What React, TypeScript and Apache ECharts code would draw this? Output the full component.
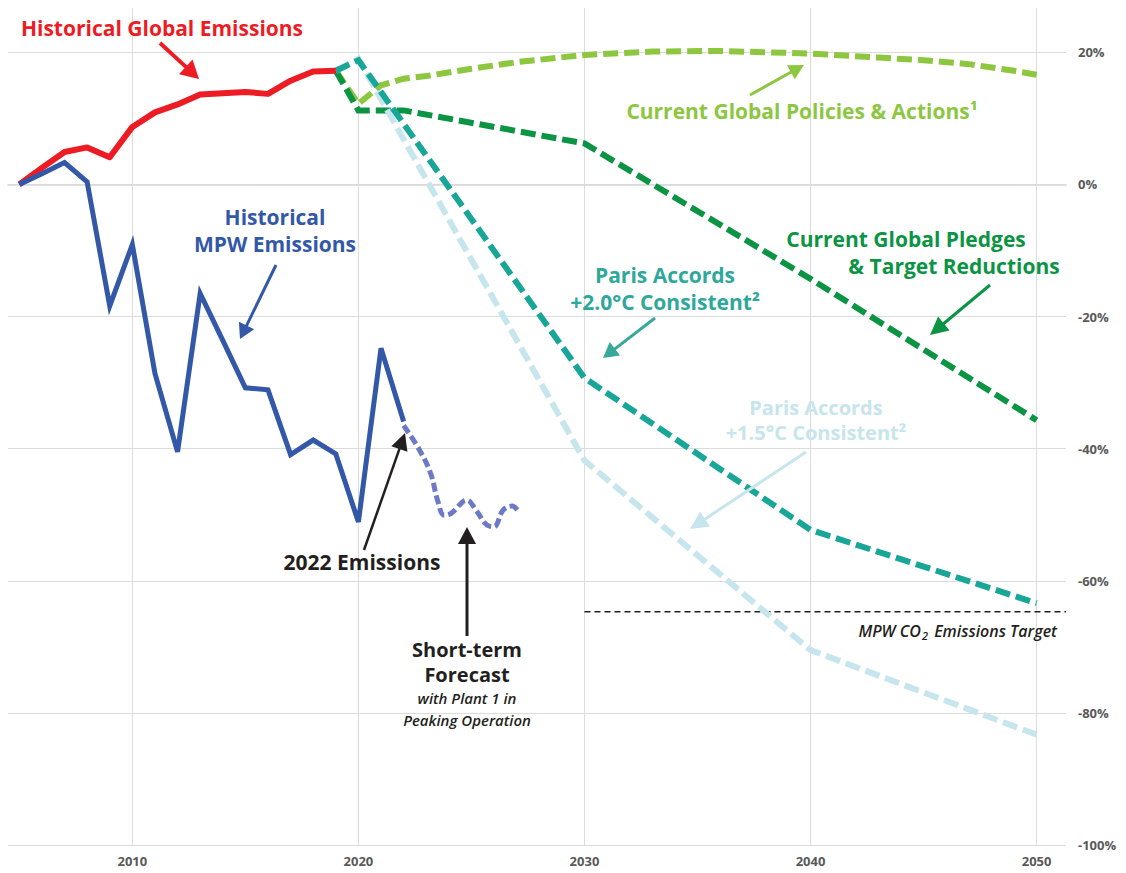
import React, { useEffect, useRef } from "react";
import * as echarts from "echarts";

// ---------- data ----------
const globalYears = [2005, 2006, 2007, 2008, 2009, 2010, 2011, 2012, 2013, 2014, 2015, 2016, 2017, 2018, 2019];
const globalValues = [0, 2.5, 4.9, 5.6, 4.1, 8.7, 10.9, 12.1, 13.6, 13.8, 14.0, 13.7, 15.7, 17.1, 17.2];

const mpwYears = [2005, 2006, 2007, 2008, 2009, 2010, 2011, 2012, 2013, 2014, 2015, 2016, 2017, 2018, 2019, 2020, 2021, 2022];
const mpwValues = [0, 1.6, 3.3, 0.4, -18.4, -9.1, -28.6, -40.5, -16.5, -23.6, -30.8, -31.1, -40.9, -38.7, -40.8, -51.1, -24.8, -35.9];

const forecastYears = [2022, 2022.7, 2023.2, 2023.5, 2023.8, 2024.1, 2024.8, 2025.2, 2025.7, 2026.0, 2026.4, 2026.8, 2027.1];
const forecastValues = [-36.5, -40.2, -43.8, -47.8, -50.1, -49.8, -47.8, -49.3, -51.6, -51.8, -49.3, -48.7, -49.6];

const policiesYears = [2019, 2020, 2021, 2022, 2023, 2025, 2027, 2030, 2033, 2036, 2040, 2043, 2045, 2047, 2049, 2050];
const policiesValues = [17.2, 12.2, 15.0, 16.0, 16.4, 17.5, 18.5, 19.6, 20.1, 20.2, 19.8, 19.2, 18.8, 18.2, 17.2, 16.6];

const pledgesYears = [2019, 2020, 2022, 2030, 2040, 2050];
const pledgesValues = [17.2, 11.2, 11.2, 6.2, -14.3, -35.7];

const paris20Years = [2019, 2020, 2030, 2040, 2050];
const paris20Values = [17.2, 18.8, -29.3, -52.3, -63.4];

const paris15Years = [2019, 2020, 2030, 2040, 2050];
const paris15Values = [17.2, 19.0, -41.8, -70.5, -83.3];

const targetStartYear = 2030;
const targetValue = -64.7;

const xTicks = [2010, 2020, 2030, 2040, 2050];
const yTicks = [-100, -80, -60, -40, -20, 0, 20];
const xMin = 2004.5;
const xMax = 2051.3;
const yMin = -100;
const yMax = 26.7;

const pairs = (xs: number[], ys: number[]) => xs.map((x, i) => [x, ys[i]]);

// ---------- colours ----------
const RED = "#ed1c24";
const BLUE = "#3358a8";
const PURPLE = "#6c79c4";
const LGREEN = "#8dc63f";
const DGREEN = "#0b9444";
const TEAL = "#17a697";
const LBLUE = "#c6e5ec";
const BLACK = "#231f20";
const FONT = "'Open Sans'";

function arrow(x1: number, y1: number, x2: number, y2: number, color: string, lw: number, hl: number, hw: number) {
  const dx = x2 - x1, dy = y2 - y1;
  const L = Math.hypot(dx, dy);
  const ux = dx / L, uy = dy / L;
  const bx = x2 - ux * hl, by = y2 - uy * hl;
  const px = -uy, py = ux;
  return [
    { type: "line", z: 100, shape: { x1, y1, x2: bx + ux * 2, y2: by + uy * 2 }, style: { stroke: color, lineWidth: lw } },
    {
      type: "polygon",
      z: 100,
      shape: { points: [[x2, y2], [bx + (px * hw) / 2, by + (py * hw) / 2], [bx - (px * hw) / 2, by - (py * hw) / 2]] },
      style: { fill: color },
    },
  ];
}

function txt(text: string, x: number, y: number, font: string, fill: string, lineHeight = 24, align = "center") {
  return { type: "text", z: 100, x, y, style: { text, font, fill, lineHeight, textAlign: align, textVerticalAlign: "middle" } };
}

export default function App() {
  const ref = useRef<HTMLDivElement>(null);
  useEffect(() => {
    if (!ref.current) return;
    const chart = echarts.init(ref.current, null, { renderer: "svg" });
    const bold = (s: number) => `bold ${s}px ${FONT}`;
    const ital = (s: number) => `italic 600 ${s}px ${FONT}`;
    const dashed = (name: string, xs: number[], ys: number[], color: string, z: number) => ({
      name,
      type: "line",
      data: pairs(xs, ys),
      symbol: "none",
      z,
      lineStyle: { color, width: 6, type: [15, 6], cap: "butt", join: "miter" },
    });
    const graphics: any[] = [
      txt("Historical Global Emissions", 162, 28, bold(21), RED),
      ...arrow(160, 43, 199, 79, RED, 4, 18, 20),
      txt("Historical\nMPW Emissions", 275, 230, bold(21), BLUE, 27),
      ...arrow(276, 265, 240, 339, BLUE, 3, 15, 17),
      txt("2022 Emissions", 362, 562, bold(21), BLACK),
      ...arrow(364, 550, 405, 433, BLACK, 2.5, 17, 17),
      ...arrow(467, 636, 467, 527, BLACK, 3, 17, 18),
      txt("Short-term\nForecast", 467, 662, bold(20), BLACK, 25),
      txt("with Plant 1 in\nPeaking Operation", 467, 709, ital(15), BLACK, 22),
      txt("Current Global Policies & Actions\u00b9", 802, 111, bold(21), LGREEN),
      ...arrow(750, 95, 804, 65, LGREEN, 3, 15, 16),
      txt("Current Global Pledges", 906, 239, bold(21), DGREEN),
      txt("& Target Reductions", 954, 266, bold(21), DGREEN),
      ...arrow(990, 285, 930, 335, DGREEN, 3, 18, 18),
      txt("Paris Accords\n+2.0\u00b0C Consistent\u00b2", 665, 288, bold(21), "#2ea89a", 27),
      ...arrow(655, 318, 603, 358, "#38a89a", 3, 15, 17),
      txt("Paris Accords\n+1.5\u00b0C Consistent\u00b2", 816, 420, bold(20), LBLUE, 25),
      ...arrow(806, 452, 690, 529, LBLUE, 3, 18, 18),
      {
        type: "text",
        z: 100,
        x: 1057,
        y: 631,
        style: {
          text: "{i|MPW CO}{s|2}{i| Emissions Target}",
          textAlign: "right",
          textVerticalAlign: "middle",
          fill: BLACK,
          rich: {
            i: { font: ital(16), fill: BLACK, lineHeight: 20, verticalAlign: "middle" },
            s: { font: ital(11), fill: BLACK, lineHeight: 20, verticalAlign: "bottom", padding: [0, 2, 0, 1] },
          },
        },
      },
    ];
    chart.setOption({
      animation: false,
      backgroundColor: "#ffffff",
      grid: { left: 8, right: 60, top: 8, bottom: 28, containLabel: false, outerBoundsMode: "none" },
      xAxis: {
        type: "value",
        min: xMin,
        max: xMax,
        axisLine: { show: true, lineStyle: { color: "#d9d9d9", width: 1.5 } },
        axisTick: { show: false, customValues: xTicks },
        axisLabel: {
          customValues: xTicks,
          color: "#595959",
          fontFamily: "Open Sans",
          fontWeight: "bold",
          fontSize: 13,
          margin: 9,
          formatter: (v: number) => String(v),
        },
        splitLine: { show: true, lineStyle: { color: "#dcdcdc", width: 1 } },
      },
      yAxis: {
        type: "value",
        position: "right",
        min: yMin,
        max: yMax,
        axisLine: { show: false },
        axisTick: { show: false, customValues: yTicks },
        axisLabel: {
          customValues: yTicks,
          color: "#595959",
          fontFamily: "Open Sans",
          fontWeight: "bold",
          fontSize: 13,
          margin: 12,
          formatter: (v: number) => `${v}%`,
        },
        splitLine: { show: true, lineStyle: { color: "#dcdcdc", width: 1 } },
      },
      series: [
        {
          name: "MPW Target",
          type: "line",
          data: [[targetStartYear, targetValue], [xMax, targetValue]],
          symbol: "none",
          z: 3,
          lineStyle: { color: BLACK, width: 1.5, type: [6, 4] },
        },
        dashed("Current Global Policies & Actions", policiesYears, policiesValues, LGREEN, 4),
        dashed("Current Global Pledges & Target Reductions", pledgesYears, pledgesValues, DGREEN, 5),
        dashed("Paris Accords +1.5°C", paris15Years, paris15Values, LBLUE, 6),
        dashed("Paris Accords +2.0°C", paris20Years, paris20Values, TEAL, 7),
        {
          name: "Historical Global Emissions",
          type: "line",
          data: pairs(globalYears, globalValues),
          symbol: "none",
          z: 8,
          lineStyle: { color: RED, width: 6, join: "round" },
        },
        {
          name: "Short-term Forecast",
          type: "line",
          data: pairs(forecastYears, forecastValues),
          symbol: "none",
          smooth: 0.4,
          z: 8,
          lineStyle: { color: PURPLE, width: 5, type: [9, 4], cap: "butt" },
        },
        {
          name: "Historical MPW Emissions",
          type: "line",
          data: pairs(mpwYears, mpwValues),
          symbol: "none",
          z: 9,
          lineStyle: { color: BLUE, width: 5, join: "miter" },
        },
      ],
      graphic: graphics,
    });
    return () => chart.dispose();
  }, []);
  return <div ref={ref} style={{ position: "absolute", left: 0, top: 0, width: 1126, height: 873 }} />;
}
